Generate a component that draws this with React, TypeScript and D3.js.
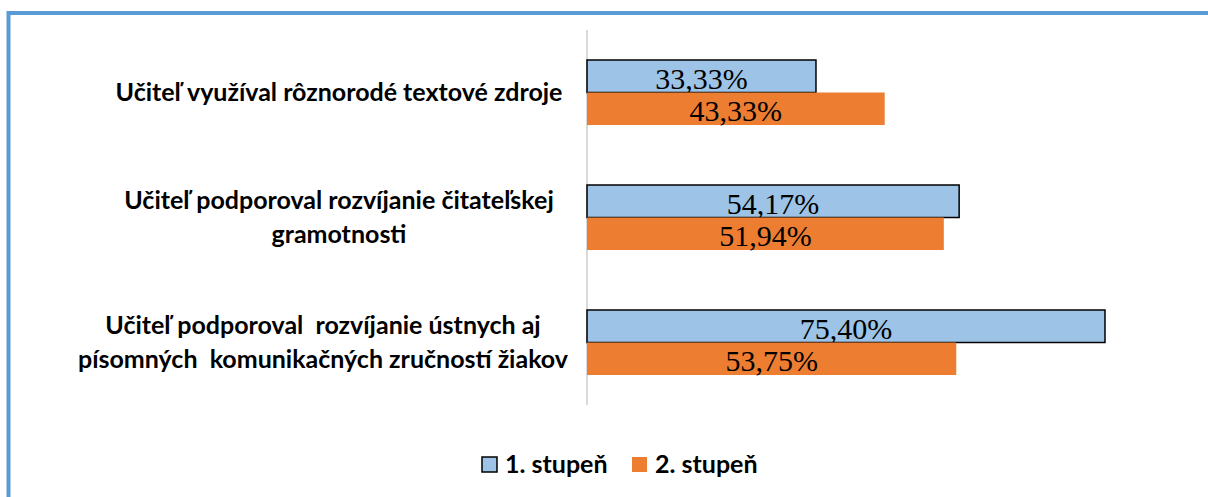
import { useEffect, useRef } from "react";
import * as d3 from "d3";

const categories = [
  ["Učiteľ využíval rôznorodé textové zdroje"],
  ["Učiteľ podporoval rozvíjanie čitateľskej", "gramotnosti"],
  ["Učiteľ podporoval  rozvíjanie ústnych aj", "písomných  komunikačných zručností žiakov"],
];
const seriesNames = ["1. stupeň", "2. stupeň"];
const stupen1 = [33.33, 54.17, 75.4];
const stupen2 = [43.33, 51.94, 53.75];
const colors = ["#9dc3e6", "#ed7d31"];

const W = 1208;
const H = 497;

export default function App() {
  const ref = useRef<SVGSVGElement>(null);

  useEffect(() => {
    document.body.style.margin = "0";
    if (!ref.current) return;
    const svg = d3.select(ref.current);
    svg.selectAll("*").remove();

    // outer frame (only top and left visible)
    svg
      .append("rect")
      .attr("x", 8.5)
      .attr("y", 13)
      .attr("width", 2000)
      .attr("height", 1000)
      .attr("fill", "none")
      .attr("stroke", "#5b9bd5")
      .attr("stroke-width", 4);

    const x = d3.scaleLinear().domain([0, 100]).range([587, 587 + 687]);
    const y = d3
      .scaleBand<number>()
      .domain(d3.range(categories.length))
      .range([30, 405])
      .paddingInner(0.48)
      .paddingOuter(0.24);
    const sub = d3.scaleBand<number>().domain([0, 1]).range([0, y.bandwidth()]);

    // axis line
    svg
      .append("line")
      .attr("x1", x(0))
      .attr("x2", x(0))
      .attr("y1", 30)
      .attr("y2", 405)
      .attr("stroke", "#d9d9d9")
      .attr("stroke-width", 2);

    const series = [stupen1, stupen2];
    series.forEach((vals, s) => {
      const g = svg.append("g");
      g.selectAll("rect")
        .data(vals)
        .join("rect")
        .attr("x", x(0))
        .attr("y", (_, i) => y(i)! + sub(s)!)
        .attr("width", (d) => x(d) - x(0))
        .attr("height", sub.bandwidth())
        .attr("fill", colors[s])
        .attr("stroke", s === 0 ? "#000" : "none")
        .attr("stroke-width", 1.5);
      g.selectAll("text")
        .data(vals)
        .join("text")
        .attr("x", (d) => (x(0) + x(d)) / 2)
        .attr("y", (_, i) => y(i)! + sub(s)! + sub.bandwidth() - 4)
        .attr("text-anchor", "middle")
        .attr("font-family", "'Liberation Serif', serif")
        .attr("font-size", 30)
        .attr("fill", "#000")
        .text((d) => d.toFixed(2).replace(".", ",") + "%");
    });

    // category labels (the last one sits a bit further left in the original)
    categories.forEach((lines, i) => {
      const cy = y(i)! + y.bandwidth() / 2;
      const cx = i === 2 ? 323 : 339;
      const lh = 34;
      const t = svg
        .append("text")
        .attr("text-anchor", "middle")
        .attr("font-family", "Lato, 'Open Sans', sans-serif")
        .attr("font-weight", "bold")
        .attr("font-size", 25)
        .attr("fill", "#000")
        .style("white-space", "pre");
      lines.forEach((ln, j) => {
        t.append("tspan")
          .attr("x", cx)
          .attr("y", cy + 8 + (j - (lines.length - 1) / 2) * lh)
          .text(ln);
      });
    });

    // legend
    const legX = [482, 632];
    seriesNames.forEach((name, s) => {
      svg
        .append("rect")
        .attr("x", legX[s])
        .attr("y", 457)
        .attr("width", 15)
        .attr("height", 15)
        .attr("fill", colors[s])
        .attr("stroke", s === 0 ? "#000" : "none")
        .attr("stroke-width", 1.5);
      svg
        .append("text")
        .attr("x", legX[s] + 23)
        .attr("y", 473)
        .attr("font-family", "Lato, 'Open Sans', sans-serif")
        .attr("font-weight", "bold")
        .attr("font-size", 25)
        .attr("fill", "#000")
        .text(name);
    });
  }, []);

  return <svg ref={ref} width={W} height={H} style={{ display: "block", background: "#fff" }} />;
}
